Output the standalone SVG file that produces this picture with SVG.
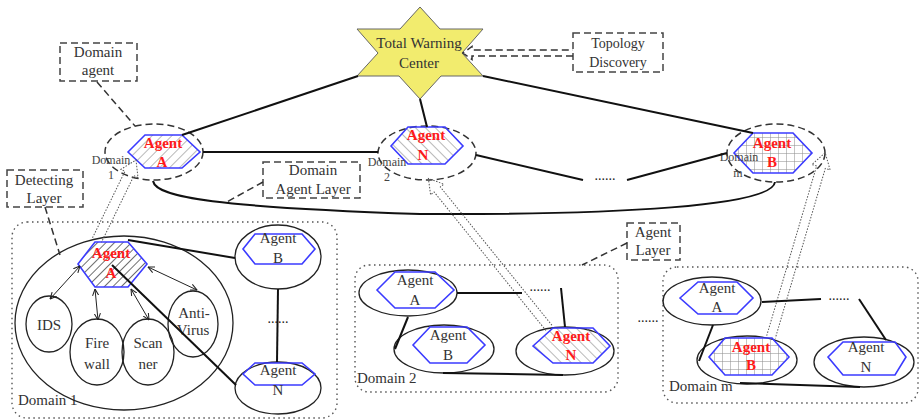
<svg xmlns="http://www.w3.org/2000/svg" width="923" height="420" viewBox="0 0 923 420">
  <defs>
    <pattern id="hatchGrayR" patternUnits="userSpaceOnUse" width="7" height="7" patternTransform="rotate(45)">
      <line x1="0" y1="0" x2="0" y2="7" stroke="#8a8a8a" stroke-width="1.2"/>
    </pattern>
    <pattern id="hatchGrayL" patternUnits="userSpaceOnUse" width="7" height="7" patternTransform="rotate(-45)">
      <line x1="0" y1="0" x2="0" y2="7" stroke="#8a8a8a" stroke-width="1.2"/>
    </pattern>
    <pattern id="hatchBlack" patternUnits="userSpaceOnUse" width="6" height="6" patternTransform="rotate(45)">
      <line x1="0" y1="0" x2="0" y2="6" stroke="#222" stroke-width="1.3"/>
    </pattern>
    <pattern id="grid" patternUnits="userSpaceOnUse" width="8" height="8" x="2" y="1">
      <path d="M0,0 H8 M0,0 V8" stroke="#8a8a8a" stroke-width="1" fill="none"/>
    </pattern>
    <marker id="tip" viewBox="0 0 8 8" refX="7.5" refY="4" markerWidth="7" markerHeight="7" orient="auto-start-reverse" markerUnits="userSpaceOnUse">
      <path d="M0,0.5 L7.5,4 L0,7.5" fill="none" stroke="#222" stroke-width="1.2"/>
    </marker>
  </defs>
  <style>
    text { font-family: "Liberation Serif", "Times New Roman", serif; fill: #333; }
    .t15 { font-size: 15px; text-anchor: middle; }
    .t14 { font-size: 14px; text-anchor: middle; }
    .small { font-size: 12px; text-anchor: middle; fill: #444; }
    .red { font-size: 15px; font-weight: bold; fill: #ff1a1a; text-anchor: middle; }
    .lbl { font-size: 15px; }
    .dashbox { fill: none; stroke: #444; stroke-width: 1.5; stroke-dasharray: 7 4; }
    .dashell { fill: none; stroke: #333; stroke-width: 1.5; stroke-dasharray: 7 4; }
    .domain { fill: none; stroke: #555; stroke-width: 1.4; stroke-dasharray: 1.5 3.5; }
    .ell { fill: none; stroke: #222; stroke-width: 1.3; }
    .hex { stroke: #3b3bff; stroke-width: 1.6; }
    .solid { fill: none; stroke: #111; stroke-width: 2; }
    .thin { fill: none; stroke: #222; stroke-width: 1; }
    .dashline { fill: none; stroke: #333; stroke-width: 1.5; stroke-dasharray: 7 4; }
    .dots { font-size: 14px; fill: #222; text-anchor: middle; }
    .block { fill: none; stroke: #555; stroke-width: 1; stroke-dasharray: 1.5 1.5; }
  </style>

  <rect width="923" height="420" fill="#ffffff"/>

  <!-- Domain containers -->
  <g id="domain1">
    <rect class="domain" x="12" y="222" width="325" height="196" rx="15"/>
    <text class="lbl" x="18" y="405">Domain 1</text>
  </g>
  <g id="domain2">
    <rect class="domain" x="355" y="265" width="263" height="127" rx="14"/>
    <text class="lbl" x="357" y="383">Domain 2</text>
  </g>
  <g id="domainM">
    <rect class="domain" x="663" y="267" width="255" height="136" rx="14"/>
    <text class="lbl" x="669" y="391">Domain m</text>
  </g>

  <!-- Total warning center -->
  <g id="center">
    <polygon points="420,7 440,29 483,29 462,53 483,76 441,76 420,99 399,76 357,76 378,53 357,29 400,29" fill="#f2ec6e" stroke="#666" stroke-width="1"/>
    <text class="t15" x="419" y="48">Total Warning</text>
    <text class="t15" x="419" y="68">Center</text>
  </g>

  <!-- Annotation boxes -->
  <g id="topologyDiscovery">
    <rect class="dashbox" x="573" y="33" width="90" height="39"/>
    <text class="t14" x="618" y="48">Topology</text>
    <text class="t14" x="618" y="67">Discovery</text>
  </g>
  <g id="domainAgentNote">
    <rect class="dashbox" x="60" y="43" width="77" height="38"/>
    <text class="t15" x="98" y="57">Domain</text>
    <text class="t15" x="98" y="75">agent</text>
  </g>
  <g id="detectingLayer">
    <rect class="dashbox" x="7" y="170" width="76" height="37"/>
    <text class="t15" x="44" y="185">Detecting</text>
    <text class="t15" x="44" y="203">Layer</text>
  </g>
  <g id="domainAgentLayer">
    <rect class="dashbox" x="263" y="162" width="97" height="36"/>
    <text class="t15" x="313" y="175">Domain</text>
    <text class="t15" x="313" y="194">Agent Layer</text>
  </g>
  <g id="agentLayer">
    <rect class="dashbox" x="627" y="223" width="53" height="37"/>
    <text class="t15" x="653" y="237">Agent</text>
    <text class="t15" x="653" y="255">Layer</text>
  </g>

  <!-- Domain agents -->
  <g id="topAgentA">
    <ellipse class="dashell" cx="154" cy="152" rx="49" ry="28"/>
    <polygon class="hex" fill="url(#hatchGrayR)" points="128,152 145,135 182,135 200,152 182,168 145,168"/>
    <text class="red" x="163" y="148">Agent</text>
    <text class="red" x="162" y="167">A</text>
    <text class="small" x="111" y="164">Domain</text>
    <text class="small" x="111" y="179">1</text>
  </g>
  <g id="topAgentN">
    <ellipse class="dashell" cx="427" cy="153" rx="49" ry="27"/>
    <polygon class="hex" fill="url(#hatchGrayL)" points="391,146 408,127 445,127 463,146 445,164 408,164"/>
    <text class="red" x="426" y="140">Agent</text>
    <text class="red" x="423" y="160">N</text>
    <text class="small" x="387" y="166">Domain</text>
    <text class="small" x="387" y="181">2</text>
  </g>
  <g id="topAgentB">
    <ellipse class="dashell" cx="776" cy="153" rx="49" ry="29"/>
    <polygon class="hex" fill="url(#grid)" points="734,153 753,133 793,133 812,153 793,173 753,173"/>
    <text class="red" x="772" y="148">Agent</text>
    <text class="red" x="772" y="167">B</text>
    <text class="small" x="739" y="161">Domain</text>
    <text class="small" x="738" y="177">m</text>
  </g>

  <!-- Domain 1 members -->
  <g id="d1-detect">
    <ellipse class="ell" cx="124" cy="323" rx="109" ry="87"/>
  </g>
  <g id="d1-agentA">
    <polygon class="hex" fill="url(#hatchBlack)" points="78,264 95,242 128,242 147,264 128,287 95,287"/>
    <text class="red" x="111" y="258">Agent</text>
    <text class="red" x="111" y="278">A</text>
  </g>
  <g id="d1-ids">
    <ellipse class="ell" cx="49" cy="324" rx="23" ry="28"/>
    <text class="t15" x="49" y="330">IDS</text>
  </g>
  <g id="d1-firewall">
    <ellipse class="ell" cx="97" cy="352" rx="27" ry="33"/>
    <text class="t15" x="97" y="348">Fire</text>
    <text class="t15" x="97" y="369">wall</text>
  </g>
  <g id="d1-scanner">
    <ellipse class="ell" cx="148" cy="352" rx="26" ry="33"/>
    <text class="t15" x="148" y="348">Scan</text>
    <text class="t15" x="148" y="369">ner</text>
  </g>
  <g id="d1-antivirus">
    <ellipse class="ell" cx="193" cy="324" rx="25" ry="33"/>
    <text class="t15" x="194" y="318">Anti-</text>
    <text class="t15" x="193" y="335">Virus</text>
  </g>
  <g id="d1-agentB">
    <ellipse class="ell" cx="278" cy="257" rx="43" ry="32"/>
    <polygon class="hex" fill="none" points="243,249 255,234 302,234 315,249 302,264 255,264"/>
    <text class="t15" x="278" y="243">Agent</text>
    <text class="t15" x="278" y="263">B</text>
  </g>
  <g id="d1-agentN">
    <ellipse class="ell" cx="278" cy="388" rx="43" ry="26"/>
    <polygon class="hex" fill="none" points="243,374 255,363 302,363 315,374 302,385 255,385"/>
    <text class="t15" x="278" y="375">Agent</text>
    <text class="t15" x="278" y="395">N</text>
  </g>

  <!-- Domain 2 members -->
  <g id="d2-agentA">
    <ellipse class="ell" cx="408" cy="293" rx="49" ry="23"/>
    <polygon class="hex" fill="none" points="377,290 395,272 435,272 454,290 435,308 395,308"/>
    <text class="t15" x="415" y="285">Agent</text>
    <text class="t15" x="415" y="305">A</text>
  </g>
  <g id="d2-agentB">
    <ellipse class="ell" cx="444" cy="349" rx="50" ry="24"/>
    <polygon class="hex" fill="none" points="413,345 430,327 467,327 485,345 467,363 430,363"/>
    <text class="t15" x="448" y="340">Agent</text>
    <text class="t15" x="448" y="360">B</text>
  </g>
  <g id="d2-agentN">
    <ellipse class="ell" cx="565" cy="351" rx="49" ry="24"/>
    <polygon class="hex" fill="url(#hatchGrayL)" points="533,346 553,328 593,328 610,346 593,363 553,363"/>
    <text class="red" x="571" y="341">Agent</text>
    <text class="red" x="571" y="360">N</text>
  </g>

  <!-- Domain m members -->
  <g id="dm-agentA">
    <ellipse class="ell" cx="712" cy="301" rx="49" ry="24"/>
    <polygon class="hex" fill="none" points="680,298 698,282 737,282 753,298 737,314 698,314"/>
    <text class="t15" x="717" y="293">Agent</text>
    <text class="t15" x="717" y="312">A</text>
  </g>
  <g id="dm-agentB">
    <ellipse class="ell" cx="747" cy="360" rx="50" ry="24"/>
    <polygon class="hex" fill="url(#grid)" points="709,357 725,338 772,338 789,357 772,375 725,375"/>
    <text class="red" x="751" y="352">Agent</text>
    <text class="red" x="751" y="370">B</text>
  </g>
  <g id="dm-agentN">
    <ellipse class="ell" cx="864" cy="362" rx="50" ry="25"/>
    <polygon class="hex" fill="none" points="828,357 843,342 895,342 906,357 895,375 843,375"/>
    <text class="t15" x="866" y="352">Agent</text>
    <text class="t15" x="866" y="372">N</text>
  </g>

  <!-- Connectors -->
  <g id="connectors">
    <!-- warning center to domain agents -->
    <line class="solid" x1="358" y1="76" x2="182" y2="135"/>
    <line class="solid" x1="420" y1="99" x2="427" y2="127"/>
    <line class="solid" x1="483" y1="76" x2="753" y2="133"/>
    <!-- domain agent ring -->
    <line class="solid" x1="203" y1="152" x2="378" y2="152"/>
    <line class="solid" x1="476" y1="155" x2="583" y2="180"/>
    <text class="dots" x="605" y="180">......</text>
    <line class="solid" x1="627" y1="180" x2="727" y2="153"/>
    <path class="solid" d="M153,181 C156,198 220,207 420,214 C620,215 772,206 775,182"/>

    <!-- annotation leaders -->
    <line class="dashline" x1="97" y1="82" x2="135" y2="126"/>
    <line class="dashline" x1="45" y1="207" x2="60" y2="255"/>
    <line class="dashline" x1="263" y1="182" x2="225" y2="203"/>
    <line class="dashline" x1="627" y1="243" x2="582" y2="265"/>
    <!-- topology discovery feed -->
    <g transform="translate(573,53) rotate(180)">
      <polyline class="dashline" stroke-width="1.3" stroke-dasharray="5 3" points="0,-3 101,-3 101,-6.5 110,0 101,6.5 101,3 0,3"/>
    </g>

    <!-- reporting arrows from domain agents to the domain agent layer -->
    <g transform="translate(97,240) rotate(-64)">
      <polyline class="block" points="0,-5 74,-5 74,-9.5 89,0 74,9.5 74,5 0,5"/>
    </g>
    <g transform="translate(549,328) rotate(-128.9)">
      <polyline class="block" points="0,-4 178,-4 178,-8.5 192,0 178,8.5 178,4 0,4"/>
    </g>
    <g transform="translate(771,337) rotate(-73.6)">
      <polyline class="block" points="0,-4.5 177,-4.5 177,-9.5 192,0 177,9.5 177,4.5 0,4.5"/>
    </g>

    <!-- domain 1 -->
    <line class="thin" marker-start="url(#tip)" marker-end="url(#tip)" x1="80" y1="266" x2="50" y2="299"/>
    <line class="thin" marker-start="url(#tip)" marker-end="url(#tip)" x1="95" y1="289" x2="98" y2="320"/>
    <line class="thin" marker-start="url(#tip)" marker-end="url(#tip)" x1="131" y1="289" x2="149" y2="320"/>
    <line class="thin" marker-start="url(#tip)" marker-end="url(#tip)" x1="148" y1="267" x2="197" y2="290"/>
    <line class="solid" x1="128" y1="240" x2="235" y2="258"/>
    <line class="solid" x1="112" y1="265" x2="236" y2="385"/>
    <line class="solid" x1="278" y1="289" x2="277" y2="362"/>
    <text class="dots" x="278" y="323">......</text>

    <!-- domain 2 -->
    <line class="solid" x1="457" y1="293" x2="522" y2="293"/>
    <text class="dots" x="540" y="291">......</text>
    <line class="solid" x1="561" y1="288" x2="565" y2="327"/>
    <line class="solid" x1="408" y1="317" x2="395" y2="349"/>
    <line class="solid" x1="443" y1="373" x2="563" y2="375"/>

    <!-- between domains -->
    <text class="dots" x="648" y="322">......</text>

    <!-- domain m -->
    <line class="solid" x1="762" y1="302" x2="821" y2="299"/>
    <text class="dots" x="839" y="300">......</text>
    <line class="solid" x1="859" y1="299" x2="886" y2="340"/>
    <line class="solid" x1="713" y1="325" x2="699" y2="361"/>
    <line class="solid" x1="740" y1="383" x2="860" y2="387"/>
  </g>
</svg>
